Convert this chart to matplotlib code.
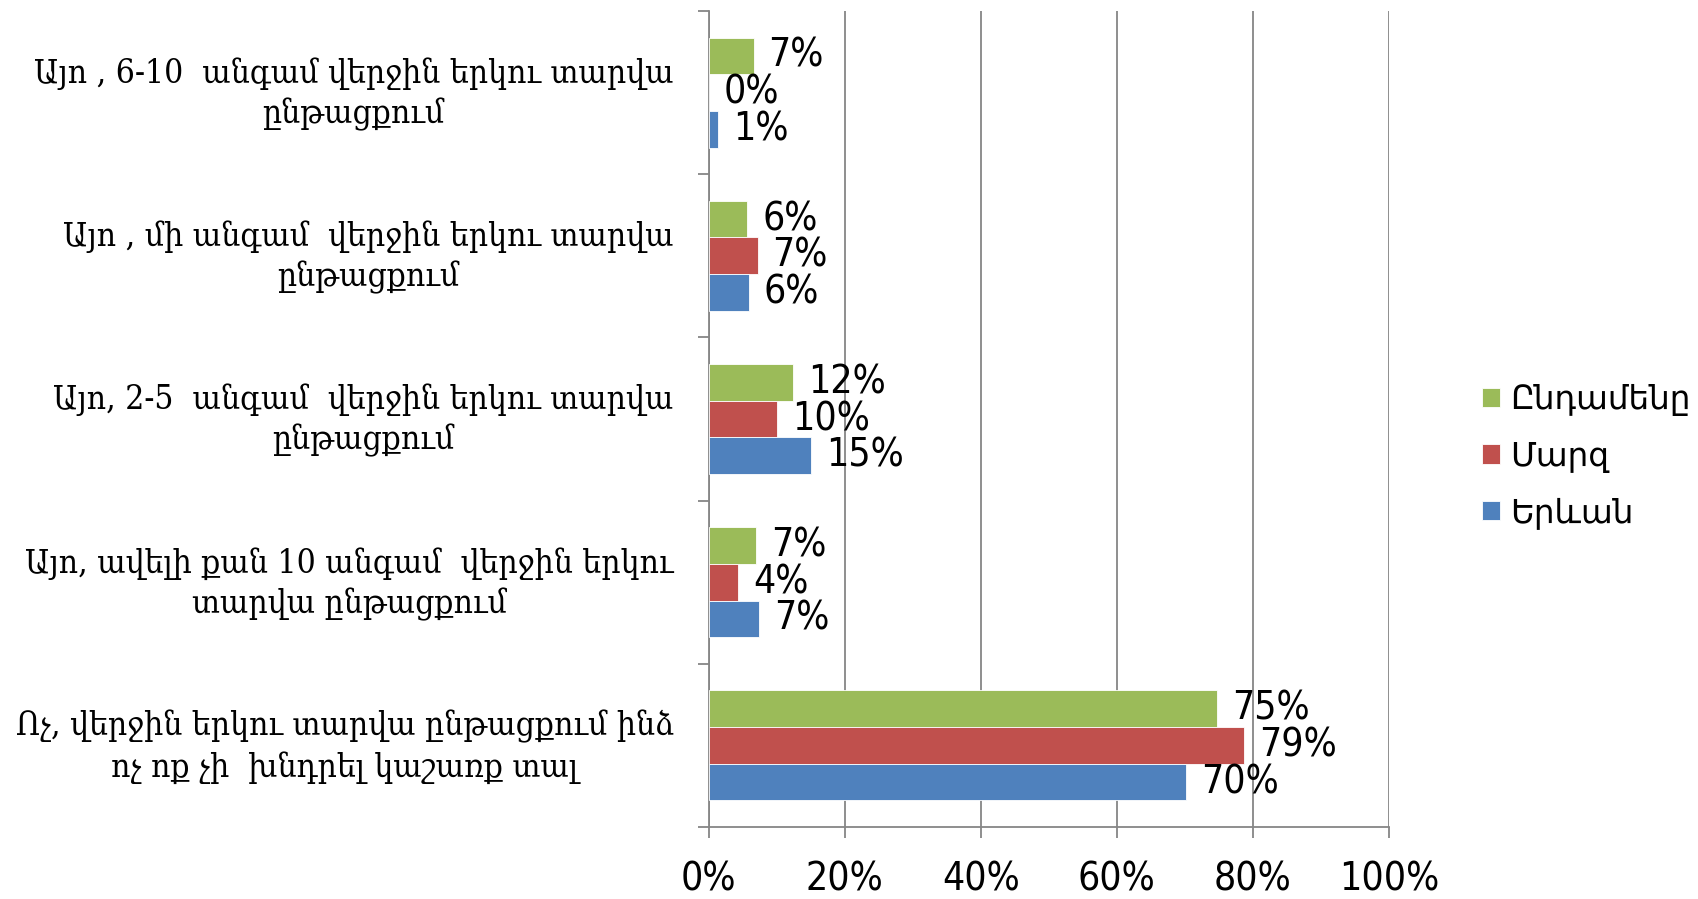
import matplotlib
matplotlib.use("Agg")
import matplotlib.pyplot as plt
import numpy as np
from matplotlib.ticker import FixedLocator, PercentFormatter, NullFormatter
from matplotlib import font_manager as fm

categories = [
    "Այո , 6-10  անգամ վերջին երկու տարվա\nընթացքում",
    "Այո , մի անգամ  վերջին երկու տարվա\nընթացքում",
    "Այո, 2-5  անգամ  վերջին երկու տարվա\nընթացքում",
    "Այո, ավելի քան 10 անգամ  վերջին երկու\nտարվա ընթացքում",
    "Ոչ, վերջին երկու տարվա ընթացքում ինձ\nոչ ոք չի  խնդրել կաշառք տալ",
]
series_names = ["Ընդամենը", "Մարզ", "Երևան"]
total = [0.066, 0.057, 0.124, 0.070, 0.747]
marz = [0.000, 0.072, 0.100, 0.043, 0.787]
yerevan = [0.014, 0.059, 0.150, 0.074, 0.702]
x_ticks = [0, 0.2, 0.4, 0.6, 0.8, 1.0]

colors = ["#9BBB59", "#C0504D", "#4F81BD"]
series = [total, marz, yerevan]

serif_cond = any(f.name == "DejaVu Serif" and "ondensed" in f.fname
                 for f in fm.fontManager.ttflist)
if serif_cond:
    cat_props = dict(family="DejaVu Serif", stretch="condensed")
    cat_size, cat_ls = 24, 1.3
else:
    cat_props = dict(family="DejaVu Serif")
    cat_size, cat_ls = 21.7, 1.42

num_props = dict(family="DejaVu Sans", stretch="condensed")
val_size, tick_size = 28, 28

fig = plt.figure(figsize=(16.99, 8.99), dpi=100)
ax_w_px = 1389 - 708.6
ax = fig.add_axes([708.6 / 1699, 1 - 827 / 899, ax_w_px / 1699, (827 - 11) / 899])

n = len(categories)
ypos = np.arange(n)[::-1]
h = 0.225
offsets = [h, 0, -h]
for vals, col, off, name in zip(series, colors, offsets, series_names):
    bars = ax.barh(ypos + off, vals, height=h, color=col, edgecolor="white",
                   linewidth=0.6, label=name, zorder=3)
    for b, v in zip(bars, vals):
        ax.annotate(f"{v*100:.0f}%", (v, b.get_y() + b.get_height() / 2),
                    xytext=(15, 0), textcoords="offset pixels",
                    ha="left", va="center", fontsize=val_size,
                    color="black", zorder=5, **num_props)

ax.set_xlim(0, 1.0)
ax.set_ylim(-0.5, n - 0.5)
ax.xaxis.set_major_locator(FixedLocator(x_ticks))
ax.xaxis.set_major_formatter(PercentFormatter(1.0, decimals=0))
ax.grid(axis="x", color="#868686", linewidth=1.3, zorder=0)
for s in ["top", "right"]:
    ax.spines[s].set_visible(False)
for s in ["left", "bottom"]:
    ax.spines[s].set_color("#868686")
    ax.spines[s].set_linewidth(1.3)
ax.tick_params(axis="x", length=8, width=1.3, color="#868686", pad=16,
               labelsize=tick_size)
for lab in ax.get_xticklabels():
    lab.set_family(num_props["family"])
    lab.set_stretch(num_props["stretch"])

ax.set_yticks(np.arange(n + 1) - 0.5)
ax.yaxis.set_major_formatter(NullFormatter())
ax.tick_params(axis="y", which="major", length=8, width=1.3, color="#868686")

trans = ax.get_yaxis_transform()
for y, cat in zip(ypos, categories):
    ax.text(-35 / ax_w_px, y - 0.01, cat, transform=trans, ha="right",
            va="center", multialignment="center", linespacing=cat_ls,
            fontsize=cat_size, color="black", **cat_props)

handles, labels = ax.get_legend_handles_labels()
fig.legend(handles, labels, loc="center left",
           bbox_to_anchor=(1482 / 1699, 1 - 456 / 899),
           frameon=False, prop={"family": "DejaVu Sans", "size": 23.5},
           handlelength=0.55, handleheight=0.55, handletextpad=0.3,
           labelspacing=0.72, borderpad=0, borderaxespad=0)

fig.savefig("out.png", dpi=100, facecolor="white")
